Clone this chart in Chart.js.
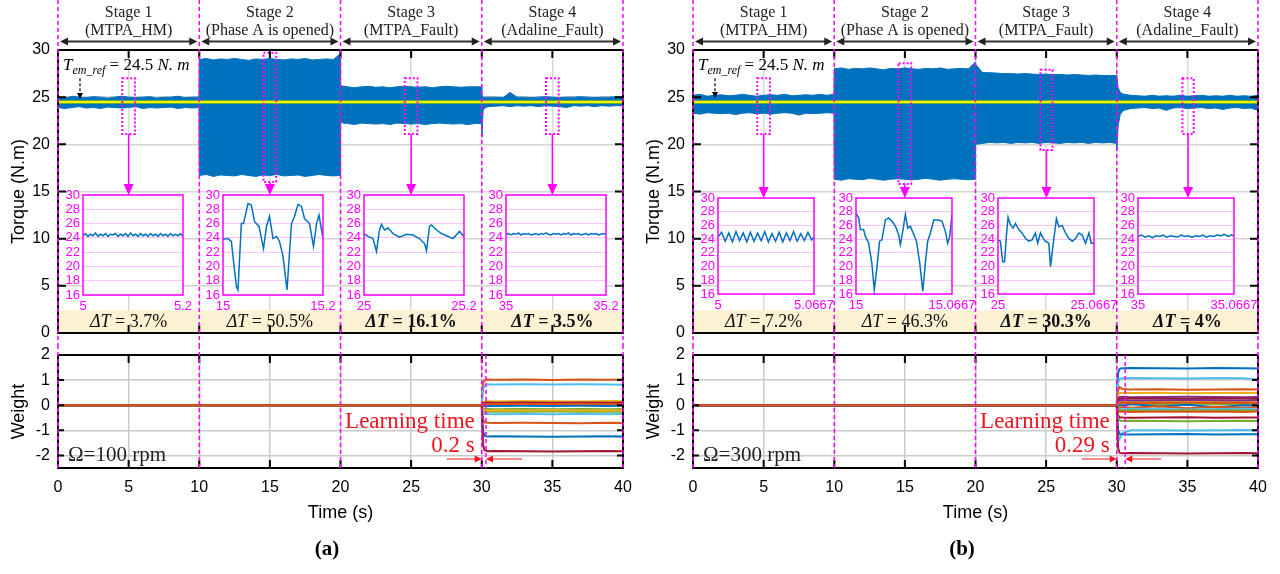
<!DOCTYPE html>
<html lang="en">
<head>
<meta charset="UTF-8">
<title>Torque and Adaline weights</title>
<style>
  body { margin: 0; background: #fff; width: 1280px; height: 574px; position: relative; overflow: hidden; }
  .box { position: absolute; }
</style>
</head>
<body>
<div class="box" style="left:0;top:0;width:640px;height:345px"><canvas id="topA"></canvas></div>
<div class="box" style="left:0;top:345px;width:640px;height:229px"><canvas id="botA"></canvas></div>
<div class="box" style="left:635px;top:0;width:640px;height:345px"><canvas id="topB"></canvas></div>
<div class="box" style="left:635px;top:345px;width:640px;height:229px"><canvas id="botB"></canvas></div>

<script src="https://cdn.jsdelivr.net/npm/chart.js"></script>
<script>
// ---- data ----
const stageEdges = [0, 10, 20, 30, 40];
const stageTitles = ['Stage 1', 'Stage 2', 'Stage 3', 'Stage 4'];
const stageModes = ['(MTPA_HM)', '(Phase A is opened)', '(MTPA_Fault)', '(Adaline_Fault)'];
const timeTicks = [0, 5, 10, 15, 20, 25, 30, 35, 40];
const torqueTicks = [0, 5, 10, 15, 20, 25, 30];
const weightTicks = [-2, -1, 0, 1, 2];
const torqueRef = 24.5;

const torqueTime = [
  0,0.5,1,1.5,2,2.5,3,3.5,4,4.5,5,5.5,6,6.5,7,7.5,8,8.5,9,9.5,9.98,
  10,10.5,11,11.5,12,12.5,13,13.5,14,14.5,15,15.5,16,16.5,17,17.5,18,18.5,19,19.5,19.98,
  20,20.5,21,21.5,22,22.5,23,23.5,24,24.5,25,25.5,26,26.5,27,27.5,28,28.5,29,29.5,29.98,
  30,30.1,30.25,30.5,31,31.5,32,32.5,33,33.5,34,34.5,35,35.5,36,36.5,37,37.5,38,38.5,39,39.5,40];

// envelope of the torque ripple, panel (a)
const upperA = [
  25.0,24.9,25.1,25.0,24.95,25.05,25.0,24.9,25.0,25.1,25.0,24.95,25.0,25.05,24.9,25.0,25.0,25.1,24.95,25.0,25.0,
  29.0,29.1,28.95,29.05,29.0,29.1,29.0,28.9,29.05,29.0,29.1,29.0,28.95,29.05,29.0,29.1,28.95,29.0,29.05,29.0,29.6,
  26.2,26.1,26.0,26.1,26.15,26.05,26.1,26.0,26.1,26.15,26.1,26.05,26.1,26.0,26.1,26.15,26.1,26.05,26.1,26.1,26.1,
  25.1,25.0,25.0,25.0,25.0,24.95,25.5,25.0,25.0,24.95,25.0,25.05,25.0,24.95,25.0,25.0,25.05,25.0,24.95,25.0,25.0,25.05,25.0];
const lowerA = [
  23.9,23.8,23.9,24.0,23.85,23.9,23.8,23.95,23.9,23.85,23.9,24.0,23.8,23.9,23.85,23.9,23.95,23.8,23.9,23.85,23.9,
  16.7,16.8,16.6,16.75,16.7,16.65,16.8,16.7,16.6,16.75,16.7,16.8,16.65,16.7,16.75,16.6,16.7,16.8,16.7,16.65,16.7,
  22.3,22.2,22.1,22.25,22.2,22.15,22.2,22.1,22.25,22.2,22.15,22.2,22.1,22.2,22.25,22.2,22.15,22.2,22.1,22.2,22.2,
  20.8,23.6,23.9,24.0,24.05,24.1,24.0,24.1,24.05,24.1,24.0,24.1,24.05,24.0,23.9,24.1,24.05,24.1,24.0,24.1,24.05,24.1,24.1];
// panel (b)
const upperB = [
  25.2,25.3,25.1,25.2,25.25,25.15,25.2,25.3,25.2,25.1,25.2,25.25,25.2,25.3,25.15,25.2,25.25,25.2,25.3,25.2,25.3,
  28.0,28.1,27.95,28.05,28.0,28.1,28.0,27.9,28.05,28.0,28.1,28.0,27.95,28.05,28.0,28.1,27.95,28.0,28.05,28.0,28.7,
  28.5,27.6,27.6,27.55,27.5,27.5,27.45,27.5,27.45,27.4,27.45,27.4,27.4,27.35,27.4,27.35,27.3,27.35,27.3,27.3,27.3,
  27.2,26.0,25.5,25.3,25.2,25.15,25.1,25.2,25.1,25.15,25.1,25.2,25.1,25.15,25.2,25.1,25.15,25.1,25.2,25.1,25.15,25.1,25.2];
const lowerB = [
  23.3,23.2,23.35,23.3,23.25,23.3,23.15,23.3,23.35,23.25,23.3,23.2,23.3,23.35,23.3,23.1,23.3,23.25,23.3,23.35,23.3,
  16.3,16.2,16.35,16.3,16.25,16.4,16.3,16.2,16.3,16.35,16.3,16.25,16.3,16.4,16.3,16.2,16.3,16.35,16.3,16.25,16.3,
  20.0,20.1,20.2,20.15,20.2,20.1,20.2,20.15,20.2,20.1,20.2,20.15,20.1,20.2,20.15,20.2,20.1,20.2,20.15,20.2,20.1,
  19.4,22.0,23.2,23.6,23.8,23.85,23.9,23.8,23.85,23.6,23.85,23.9,23.8,23.85,23.9,23.8,23.85,23.7,23.85,23.9,23.8,23.85,23.6];

const deltaTA = ['3.7%', '50.5%', '16.1%', '3.5%'];
const deltaTB = ['7.2%', '46.3%', '30.3%', '4%'];

// zoom windows [t0, t1, yMin, yMax]
const zoomWinA = [[4.55,5.45,21.1,27.0],[14.55,15.45,16.0,29.7],[24.55,25.45,21.1,27.0],[34.55,35.45,21.1,27.0]];
const zoomWinB = [[4.55,5.45,21.1,27.0],[14.55,15.45,15.8,28.6],[24.6,25.45,19.4,27.9],[34.65,35.45,21.1,27.0]];

// inset traces
const ins1aTime = [5,5.005,5.01,5.015,5.02,5.025,5.03,5.035,5.04,5.045,5.05,5.055,5.06,5.065,5.07,5.075,5.08,5.085,5.09,5.095,5.1,5.105,5.11,5.115,5.12,5.125,5.13,5.135,5.14,5.145,5.15,5.155,5.16,5.165,5.17,5.175,5.18,5.185,5.19,5.195,5.2];
const ins1aVal = [24.3,24.6,24.2,24.5,24.3,24.7,24.2,24.5,24.3,24.6,24.2,24.5,24.4,24.6,24.2,24.5,24.3,24.6,24.2,24.7,24.3,24.5,24.2,24.6,24.3,24.5,24.2,24.6,24.3,24.5,24.2,24.6,24.3,24.5,24.2,24.6,24.3,24.5,24.3,24.6,24.2];
const ins2aTime = [15,15.01,15.0167,15.0267,15.03,15.0367,15.041,15.05,15.0567,15.063,15.072,15.081,15.087,15.093,15.1,15.107,15.113,15.12,15.128,15.137,15.143,15.15,15.157,15.163,15.173,15.181,15.187,15.192,15.2];
const ins2aVal = [23.8,23.9,23.5,17.2,16.7,26.0,26.0,28.8,28.6,26.3,25.6,22.5,25.6,27.0,23.9,24.2,23.5,21.4,16.7,26.0,27.0,28.7,28.4,26.7,26.0,22.8,26.0,27.2,23.9];
const ins3aTime = [25,25.008,25.018,25.025,25.031,25.035,25.041,25.048,25.058,25.071,25.085,25.098,25.111,25.121,25.125,25.131,25.135,25.145,25.155,25.165,25.178,25.191,25.2];
const ins3aVal = [24.6,24.2,23.9,22.1,25.1,25.9,25.1,25.4,24.6,24.1,24.5,24.4,23.9,23.2,22.2,25.6,25.8,25.1,24.6,24.3,23.9,24.9,24.2];
const ins4aTime = [35,35.005,35.01,35.015,35.02,35.025,35.03,35.035,35.04,35.045,35.05,35.055,35.06,35.065,35.07,35.075,35.08,35.085,35.09,35.095,35.1,35.105,35.11,35.115,35.12,35.125,35.13,35.135,35.14,35.145,35.15,35.155,35.16,35.165,35.17,35.175,35.18,35.185,35.19,35.195,35.2];
const ins4aVal = [24.5,24.6,24.4,24.6,24.5,24.7,24.4,24.6,24.5,24.6,24.4,24.5,24.6,24.4,24.6,24.5,24.7,24.5,24.4,24.6,24.5,24.6,24.4,24.6,24.5,24.7,24.4,24.6,24.5,24.6,24.4,24.5,24.6,24.4,24.6,24.5,24.6,24.4,24.5,24.6,24.5];

const ins1bTime = [5,5.0025,5.005,5.0075,5.01,5.0125,5.015,5.0175,5.02,5.0225,5.025,5.0275,5.03,5.0325,5.035,5.0375,5.04,5.0425,5.045,5.0475,5.05,5.0525,5.055,5.0575,5.06,5.0625,5.065,5.0667];
const ins1bVal = [24.3,25.0,23.7,24.9,23.6,25.1,23.8,24.9,23.6,25.0,23.7,24.9,23.8,25.1,23.6,24.8,23.7,25.0,23.6,24.9,23.8,25.1,23.7,24.8,23.8,25.0,23.9,24.3];
const ins2bTime = [15,15.0019,15.003,15.0053,15.0065,15.0088,15.011,15.0127,15.0146,15.0164,15.018,15.0204,15.0227,15.025,15.0274,15.0297,15.0308,15.0327,15.0343,15.036,15.0378,15.0397,15.042,15.0443,15.0464,15.0482,15.0498,15.0517,15.054,15.0575,15.0598,15.0621,15.0637,15.0651,15.0667];
const ins2bVal = [27.8,27.1,25.4,25.4,24.4,23.4,20.5,16.6,20.0,23.7,23.9,26.8,27.1,26.6,25.9,24.6,23.2,25.4,27.6,25.6,25.9,24.9,23.7,20.5,16.4,20.5,23.7,24.9,26.8,26.8,26.6,25.1,23.4,24.4,27.6];
const ins3bTime = [25,25.0016,25.0033,25.0046,25.0058,25.007,25.0086,25.0105,25.0121,25.0144,25.0167,25.0191,25.0214,25.0237,25.026,25.0276,25.0295,25.0314,25.033,25.0353,25.0365,25.0383,25.0406,25.0423,25.0446,25.0469,25.0492,25.0516,25.0539,25.0562,25.0585,25.0608,25.0632,25.0648,25.0667];
const ins3bVal = [23.9,23.7,20.7,20.7,24.4,27.2,26.1,25.6,26.3,25.4,24.9,24.1,23.7,23.9,24.9,23.4,24.9,24.1,23.7,23.4,20.0,23.2,27.0,25.8,26.0,24.9,24.1,23.7,24.1,24.9,24.6,23.4,24.9,23.4,23.4];
const ins4bTime = [35,35.0025,35.005,35.0075,35.01,35.0125,35.015,35.0175,35.02,35.0225,35.025,35.0275,35.03,35.0325,35.035,35.0375,35.04,35.0425,35.045,35.0475,35.05,35.0525,35.055,35.0575,35.06,35.0625,35.065,35.0667];
const ins4bVal = [24.4,24.6,24.3,24.5,24.2,24.5,24.4,24.6,24.3,24.5,24.4,24.3,24.6,24.4,24.5,24.3,24.5,24.4,24.6,24.3,24.5,24.4,24.6,24.5,24.7,24.4,24.6,24.5];

const insetTicksA = [['5','5.2'],['15','15.2'],['25','25.2'],['35','35.2']];
const insetTicksB = [['5','5.0667'],['15','15.0667'],['25','25.0667'],['35','35.0667']];
const insetYTicks = [16, 18, 20, 22, 24, 26, 28, 30];

// Adaline weights
const weightTime = [0, 30, 30.04, 30.1, 30.2, 30.4, 31, 33, 35, 37, 39, 40];
const weightsA = [
  [0,0,0.45,0.88,0.99,1.02,1.01,1.02,1.0,1.02,1.01,1.02],
  [0,0,0.3,0.62,0.78,0.83,0.83,0.84,0.83,0.84,0.83,0.82],
  [0,0,0.06,0.12,0.15,0.16,0.15,0.17,0.16,0.15,0.17,0.16],
  [0,0,0.02,0.05,0.07,0.08,0.07,0.08,0.07,0.08,0.07,0.08],
  [0,0,0.04,0.08,0.1,0.11,0.1,0.11,0.1,0.11,0.1,0.11],
  [0,0,-0.01,-0.02,-0.03,-0.02,-0.03,-0.02,-0.03,-0.02,-0.03,-0.02],
  [0,0,-0.06,-0.12,-0.15,-0.15,-0.16,-0.15,-0.16,-0.15,-0.16,-0.15],
  [0,0,-0.1,-0.2,-0.25,-0.26,-0.25,-0.26,-0.25,-0.26,-0.25,-0.26],
  [0,0,-0.14,-0.28,-0.34,-0.35,-0.36,-0.35,-0.36,-0.35,-0.36,-0.35],
  [0,0,-0.08,-0.16,-0.2,-0.21,-0.2,-0.21,-0.2,-0.21,-0.2,-0.21],
  [0,0,-0.3,-0.58,-0.68,-0.7,-0.71,-0.7,-0.71,-0.72,-0.7,-0.71],
  [0,0,-0.55,-1.05,-1.22,-1.25,-1.24,-1.25,-1.26,-1.25,-1.24,-1.25],
  [0,0,-0.9,-1.6,-1.79,-1.83,-1.82,-1.83,-1.84,-1.83,-1.82,-1.83],
  [0,0,0.02,0.04,0.05,0.05,0.06,0.05,0.05,0.06,0.05,0.05]];
const weightsB = [
  [0,0,0.8,1.3,1.45,1.47,1.48,1.47,1.46,1.48,1.47,1.46],
  [0,0,0.5,0.9,1.05,1.07,1.08,1.07,1.06,1.08,1.07,1.02],
  [0,0,0.35,0.6,0.72,0.65,0.63,0.64,0.62,0.63,0.64,0.63],
  [0,0,0.25,0.42,0.48,0.5,0.49,0.5,0.48,0.49,0.5,0.49],
  [0,0,0.15,0.28,0.33,0.34,0.32,0.33,0.34,0.33,0.32,0.33],
  [0,0,0.12,0.22,0.26,0.27,0.28,0.27,0.26,0.28,0.27,0.27],
  [0,0,0.06,0.12,0.15,0.16,0.14,0.15,0.17,0.15,0.14,0.16],
  [0,0,0.02,0.04,0.05,0.06,0.04,0.05,0.06,0.05,0.04,0.05],
  [0,0,-0.1,-0.05,0.0,-0.02,0.05,-0.05,0.02,-0.08,0.0,-0.02],
  [0,0,-0.05,-0.08,-0.12,-0.06,-0.1,-0.04,-0.12,-0.06,-0.1,-0.08],
  [0,0,-0.08,-0.13,-0.15,-0.16,-0.14,-0.15,-0.17,-0.15,-0.14,-0.16],
  [0,0,-0.1,-0.17,-0.2,-0.21,-0.2,-0.22,-0.2,-0.21,-0.2,-0.21],
  [0,0,-0.12,-0.22,-0.26,-0.25,-0.27,-0.25,-0.26,-0.25,-0.27,-0.25],
  [0,0,-0.22,-0.4,-0.48,-0.49,-0.5,-0.49,-0.48,-0.5,-0.49,-0.49],
  [0,0,-0.3,-0.52,-0.6,-0.63,-0.62,-0.63,-0.64,-0.63,-0.62,-0.63],
  [0,0,-0.6,-1.2,-1.35,-1.1,-1.0,-1.0,-1.01,-1.0,-0.99,-1.0],
  [0,0,-0.5,-1.0,-1.15,-1.16,-1.17,-1.16,-1.15,-1.17,-1.16,-1.16],
  [0,0,-1.0,-1.7,-1.9,-1.91,-1.9,-1.91,-1.92,-1.91,-1.9,-1.91],
  [0,0,0.1,0.17,0.2,0.21,0.19,0.2,0.22,0.2,0.19,0.21],
  [0,0,0.05,0.08,0.1,0.11,0.09,0.1,0.11,0.1,0.09,0.1]];

// ---- styles ----
const SANS = "'Liberation Sans', Arial, sans-serif";
const SERIF = "'Liberation Serif', 'Times New Roman', serif";
const MAG = '#FF00FF';
const RED = '#F0141E';
const BLUE = '#0072BD';
const palette = { b: '#0072BD', o: '#D95319', y: '#EDB120', p: '#7E2F8E', g: '#77AC30', c: '#4DBEEE', r: '#A2142F' };
const weightColorsA = ['o','c','y','p','r','b','g','g','c','y','o','b','r','o'];
const weightColorsB = ['b','c','o','y','p','r','y','g','b','o','c','g','o','r','g','c','b','r','p','o'];
const bandTop = 2.4; // top of the ΔT strip, in N.m

const panels = [
  { top: 'topA', bot: 'botA', left: 0, upper: upperA, lower: lowerA, delta: deltaTA, bold: [false, false, true, true],
    wins: zoomWinA, insetTop: 195, insetBoxes: [83, 223, 364, 506], insetSize: 100,
    insets: [[ins1aTime, ins1aVal], [ins2aTime, ins2aVal], [ins3aTime, ins3aVal], [ins4aTime, ins4aVal]], insetTicks: insetTicksA,
    weights: weightsA, wColors: weightColorsA, learnEnd: 30.3, learnLabel: '0.2 s', speed: 'Ω=100 rpm', label: '(a)', refArrow: [27.0, 24.8] },
  { top: 'topB', bot: 'botB', left: 635, upper: upperB, lower: lowerB, delta: deltaTB, bold: [false, false, true, true],
    wins: zoomWinB, insetTop: 198, insetBoxes: [718, 856, 998, 1138], insetSize: 96,
    insets: [[ins1bTime, ins1bVal], [ins2bTime, ins2bVal], [ins3bTime, ins3bVal], [ins4bTime, ins4bVal]], insetTicks: insetTicksB,
    weights: weightsB, wColors: weightColorsB, learnEnd: 30.6, learnLabel: '0.29 s', speed: 'Ω=300 rpm', label: '(b)', refArrow: [27.0, 24.9] }
];

// ---- helpers ----
const zip = (xs, ys) => xs.map((x, i) => ({ x: x, y: ys[i] }));

function head(ctx, x, y, dx, dy, len, half) {
  const bx = x - dx * len, by = y - dy * len;
  ctx.beginPath();
  ctx.moveTo(x, y);
  ctx.lineTo(bx - dy * half, by + dx * half);
  ctx.lineTo(bx + dy * half, by - dx * half);
  ctx.closePath();
  ctx.fill();
}

function drawParts(ctx, parts, x, y, align) {
  let w = 0;
  parts.forEach(p => { ctx.font = p.font; w += ctx.measureText(p.text).width; });
  let cx = align === 'center' ? x - w / 2 : x;
  ctx.textAlign = 'left';
  parts.forEach(p => {
    ctx.font = p.font;
    ctx.fillText(p.text, cx, y + (p.dy || 0));
    cx += ctx.measureText(p.text).width;
  });
}

function dashV(ctx, x, y0, y1) {
  ctx.save();
  ctx.strokeStyle = MAG; ctx.lineWidth = 1.5; ctx.setLineDash([4, 3]);
  ctx.beginPath(); ctx.moveTo(x, y0); ctx.lineTo(x, y1); ctx.stroke();
  ctx.restore();
}

function drawFrame(chart, xt, yt, lenX, lenY) {
  const { ctx, chartArea: a, scales: { x, y } } = chart;
  ctx.save();
  ctx.strokeStyle = '#000'; ctx.lineWidth = 2;
  ctx.beginPath();
  xt.forEach(v => {
    const px = x.getPixelForValue(v);
    ctx.moveTo(px, a.top); ctx.lineTo(px, a.top + lenX);
    ctx.moveTo(px, a.bottom); ctx.lineTo(px, a.bottom - lenX);
  });
  yt.forEach(v => {
    const py = y.getPixelForValue(v);
    ctx.moveTo(a.left, py); ctx.lineTo(a.left + lenY, py);
    ctx.moveTo(a.right, py); ctx.lineTo(a.right - lenY, py);
  });
  ctx.stroke();
  ctx.strokeRect(a.left, a.top, a.right - a.left, a.bottom - a.top);
  ctx.restore();
}

function yAxis(min, max, ticks, title) {
  return {
    min: min, max: max,
    afterBuildTicks: s => { s.ticks = ticks.map(v => ({ value: v })); },
    ticks: { font: { family: SANS, size: 16 }, color: '#000', padding: 8, autoSkip: false },
    grid: { color: '#D4D4D4', lineWidth: 1.5, drawTicks: false },
    border: { display: false },
    title: { display: true, text: title, font: { family: SANS, size: 18 }, color: '#000', padding: { top: 8, bottom: 0 } },
    afterFit: s => { s.width = 58; s.paddingTop = 0; s.paddingBottom = 0; }
  };
}

// ---- torque chart ----
function makeTop(p) {
  const decor = {
    id: 'topDecor',
    beforeDatasetsDraw(chart) {
      const { ctx, chartArea: a, scales: { y } } = chart;
      const yb = y.getPixelForValue(bandTop);
      ctx.save();
      ctx.fillStyle = '#FDF1D3';
      ctx.fillRect(a.left, yb, a.right - a.left, a.bottom - yb);
      ctx.restore();
    },
    afterDatasetsDraw(chart) {
      const { ctx, chartArea: a, scales: { x, y } } = chart;
      ctx.save();
      // zoom windows and arrows to insets
      ctx.strokeStyle = MAG; ctx.fillStyle = MAG;
      p.wins.forEach(w => {
        const x0 = x.getPixelForValue(w[0]), x1 = x.getPixelForValue(w[1]);
        const y0 = y.getPixelForValue(w[3]), y1 = y.getPixelForValue(w[2]);
        ctx.lineWidth = 2; ctx.setLineDash([2, 2]);
        ctx.strokeRect(x0, y0, x1 - x0, y1 - y0);
        ctx.setLineDash([]); ctx.lineWidth = 1.5;
        const xc = x.getPixelForValue((w[0] + w[1]) / 2);
        ctx.beginPath(); ctx.moveTo(xc, y1); ctx.lineTo(xc, p.insetTop - 8); ctx.stroke();
        head(ctx, xc, p.insetTop, 0, 1, 11, 5);
      });
      // ΔT strip text
      ctx.fillStyle = '#111'; ctx.textBaseline = 'middle';
      const yd = (y.getPixelForValue(bandTop) + a.bottom) / 2 + 1;
      p.delta.forEach((d, i) => {
        const b = p.bold[i] ? 'bold ' : '';
        const xc = x.getPixelForValue((stageEdges[i] + stageEdges[i + 1]) / 2);
        drawParts(ctx, [
          { text: 'ΔT', font: `italic ${b}18px ${SERIF}` },
          { text: ' = ' + d, font: `${b}18px ${SERIF}` }
        ], xc, yd, 'center');
      });
      ctx.restore();

      drawFrame(chart, timeTicks, torqueTicks, 8, 8);
      stageEdges.forEach(e => dashV(ctx, x.getPixelForValue(e), 0, chart.height));

      ctx.save();
      // stage headers
      ctx.fillStyle = '#222'; ctx.strokeStyle = '#333';
      ctx.textAlign = 'center'; ctx.textBaseline = 'middle';
      ctx.font = `16px ${SERIF}`;
      stageTitles.forEach((t, i) => {
        const x0 = x.getPixelForValue(stageEdges[i]), x1 = x.getPixelForValue(stageEdges[i + 1]);
        ctx.fillText(t, (x0 + x1) / 2, 13);
        ctx.fillText(stageModes[i], (x0 + x1) / 2, 31);
        ctx.lineWidth = 2;
        ctx.beginPath(); ctx.moveTo(x0 + 6, 41.5); ctx.lineTo(x1 - 6, 41.5); ctx.stroke();
        head(ctx, x0 + 2, 41.5, -1, 0, 8, 4);
        head(ctx, x1 - 2, 41.5, 1, 0, 8, 4);
      });
      // reference annotation
      ctx.fillStyle = '#000'; ctx.textBaseline = 'alphabetic';
      drawParts(ctx, [
        { text: 'T', font: `italic 17px ${SERIF}` },
        { text: 'em_ref', font: `italic 12px ${SERIF}`, dy: 4 },
        { text: ' = ' + torqueRef + ' ', font: `17px ${SERIF}` },
        { text: 'N. m', font: `italic 17px ${SERIF}` }
      ], a.left + 5, 70, 'left');
      const xr = a.left + 22;
      const ya0 = y.getPixelForValue(p.refArrow[0]), ya1 = y.getPixelForValue(p.refArrow[1]);
      ctx.strokeStyle = '#000'; ctx.lineWidth = 1.2; ctx.setLineDash([3, 2]);
      ctx.beginPath(); ctx.moveTo(xr, ya0); ctx.lineTo(xr, ya1 - 5); ctx.stroke();
      ctx.setLineDash([]);
      head(ctx, xr, ya1, 0, 1, 6, 3);
      ctx.restore();
    }
  };

  return new Chart(document.getElementById(p.top), {
    type: 'line',
    data: {
      datasets: [
        { data: zip(torqueTime, p.upper), borderColor: BLUE, backgroundColor: BLUE, borderWidth: 1, fill: '+1', pointRadius: 0, order: 3 },
        { data: zip(torqueTime, p.lower), borderColor: BLUE, borderWidth: 1, fill: false, pointRadius: 0, order: 3 },
        { data: [{ x: 0, y: torqueRef }, { x: 40, y: torqueRef }], borderColor: '#5FAE3A', borderWidth: 4, pointRadius: 0, order: 2 },
        { data: [{ x: 0, y: torqueRef }, { x: 40, y: torqueRef }], borderColor: '#F4F400', borderWidth: 2, pointRadius: 0, order: 1 }
      ]
    },
    options: {
      responsive: true, maintainAspectRatio: false, animation: false, events: [],
      layout: { padding: { left: 0, top: 50, right: 17, bottom: 12 } },
      plugins: { legend: { display: false }, tooltip: { enabled: false } },
      scales: {
        x: {
          type: 'linear', min: 0, max: 40,
          afterBuildTicks: s => { s.ticks = timeTicks.map(v => ({ value: v })); },
          ticks: { display: false },
          grid: { color: '#D9D9D9', lineWidth: 1.5, drawTicks: false },
          border: { display: false },
          afterFit: s => { s.height = 0; s.paddingLeft = 0; s.paddingRight = 0; }
        },
        y: yAxis(0, 30, torqueTicks, 'Torque (N.m)')
      }
    },
    plugins: [decor]
  });
}

// ---- weight chart ----
function makeBottom(p) {
  const decor = {
    id: 'botDecor',
    afterDatasetsDraw(chart) {
      const { ctx, chartArea: a, scales: { x } } = chart;
      drawFrame(chart, timeTicks, weightTicks, 8, 6);
      stageEdges.forEach(e => dashV(ctx, x.getPixelForValue(e), 0, a.bottom));
      dashV(ctx, x.getPixelForValue(p.learnEnd), a.top, a.bottom);
      const x30 = x.getPixelForValue(30), xl = x.getPixelForValue(p.learnEnd);
      ctx.save();
      ctx.fillStyle = RED; ctx.strokeStyle = RED;
      ctx.font = `23px ${SERIF}`; ctx.textAlign = 'right'; ctx.textBaseline = 'middle';
      ctx.fillText('Learning time', x30 - 7, a.top + 67);
      ctx.fillText(p.learnLabel, x30 - 7, a.top + 91);
      const ya = a.top + 104;
      ctx.lineWidth = 1.2;
      ctx.beginPath();
      ctx.moveTo(x30 - 35, ya); ctx.lineTo(x30 - 5, ya);
      ctx.moveTo(xl + 36, ya); ctx.lineTo(xl + 5, ya);
      ctx.stroke();
      head(ctx, x30, ya, 1, 0, 7, 3.5);
      head(ctx, xl, ya, -1, 0, 7, 3.5);
      ctx.fillStyle = '#222'; ctx.font = `21px ${SERIF}`; ctx.textAlign = 'left'; ctx.textBaseline = 'alphabetic';
      ctx.fillText(p.speed, a.left + 10, a.top + 106);
      ctx.fillStyle = '#000'; ctx.font = `bold 21px ${SERIF}`; ctx.textAlign = 'center'; ctx.textBaseline = 'middle';
      ctx.fillText(p.label, 327, a.bottom + 82);
      ctx.restore();
    }
  };
  const n = p.weights.length;
  return new Chart(document.getElementById(p.bot), {
    type: 'line',
    data: {
      datasets: p.weights.map((w, i) => ({
        data: zip(weightTime, w), borderColor: palette[p.wColors[i]], borderWidth: 2,
        pointRadius: 0, fill: false, order: n - i
      }))
    },
    options: {
      responsive: true, maintainAspectRatio: false, animation: false, events: [],
      layout: { padding: { left: 0, top: 10, right: 17, bottom: 46 } },
      plugins: { legend: { display: false }, tooltip: { enabled: false } },
      scales: {
        x: {
          type: 'linear', min: 0, max: 40,
          afterBuildTicks: s => { s.ticks = timeTicks.map(v => ({ value: v })); },
          ticks: { font: { family: SANS, size: 16 }, color: '#000', padding: 10, maxRotation: 0, autoSkip: false },
          grid: { color: '#CACACA', lineWidth: 1.5, drawTicks: false },
          border: { display: false },
          title: { display: true, text: 'Time (s)', font: { family: SANS, size: 18 }, color: '#000', padding: { top: 0, bottom: 4 } },
          afterFit: s => { s.height = 60; s.paddingLeft = 0; s.paddingRight = 0; }
        },
        y: Object.assign(yAxis(-2.5, 2, weightTicks, 'Weight'), { grid: { color: '#CACACA', lineWidth: 1.5, drawTicks: false } })
      }
    },
    plugins: [decor]
  });
}

// ---- zoomed insets ----
function makeInset(left, top, size, t, v, labels) {
  const div = document.createElement('div');
  div.className = 'box';
  div.style.left = (left - 30) + 'px';
  div.style.top = (top - 8) + 'px';
  div.style.width = (size + 56) + 'px';
  div.style.height = (size + 28) + 'px';
  const cv = document.createElement('canvas');
  div.appendChild(cv);
  document.body.appendChild(div);
  const frame = {
    id: 'insetFrame',
    beforeDraw(chart) {
      const { ctx, chartArea: a } = chart;
      ctx.save(); ctx.fillStyle = '#fff';
      ctx.fillRect(a.left, a.top, a.right - a.left, a.bottom - a.top);
      ctx.restore();
    },
    afterDraw(chart) {
      const { ctx, chartArea: a } = chart;
      ctx.save(); ctx.strokeStyle = MAG; ctx.lineWidth = 1.5;
      ctx.strokeRect(a.left, a.top, a.right - a.left, a.bottom - a.top);
      ctx.restore();
    }
  };
  return new Chart(cv, {
    type: 'line',
    data: { datasets: [{ data: zip(t, v), borderColor: BLUE, borderWidth: 1.5, pointRadius: 0, fill: false }] },
    options: {
      responsive: true, maintainAspectRatio: false, animation: false, events: [],
      layout: { padding: { left: 0, top: 8, right: 26, bottom: 0 } },
      plugins: { legend: { display: false }, tooltip: { enabled: false } },
      scales: {
        x: {
          type: 'linear', min: t[0], max: t[t.length - 1],
          afterBuildTicks: s => { s.ticks = [{ value: s.min }, { value: s.max }]; },
          ticks: { callback: (val, i) => labels[i], autoSkip: false, maxRotation: 0, font: { family: SANS, size: 13 }, color: MAG, padding: 4 },
          grid: { display: false, drawTicks: false },
          border: { display: false },
          afterFit: s => { s.height = 20; s.paddingLeft = 0; s.paddingRight = 0; }
        },
        y: {
          min: 16, max: 30,
          afterBuildTicks: s => { s.ticks = insetYTicks.map(y => ({ value: y })); },
          ticks: { font: { family: SANS, size: 13 }, color: MAG, padding: 3, autoSkip: false },
          grid: { color: '#FFC4FF', lineWidth: 1, drawTicks: false },
          border: { display: false },
          afterFit: s => { s.width = 30; s.paddingTop = 0; s.paddingBottom = 0; }
        }
      }
    },
    plugins: [frame]
  });
}

panels.forEach(p => {
  makeTop(p);
  makeBottom(p);
  p.insets.forEach((ins, i) => makeInset(p.insetBoxes[i], p.insetTop, p.insetSize, ins[0], ins[1], p.insetTicks[i]));
});
</script>
</body>
</html>
